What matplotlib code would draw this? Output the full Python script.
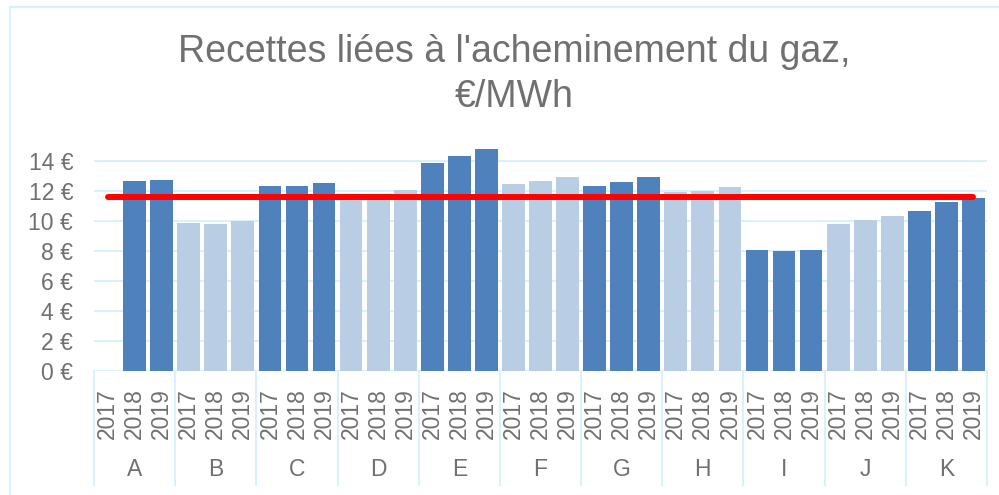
import numpy as np
import matplotlib
matplotlib.use("Agg")
import matplotlib.pyplot as plt

plt.rcParams['font.family'] = ['Liberation Sans', 'DejaVu Sans']

groups = ['A', 'B', 'C', 'D', 'E', 'F', 'G', 'H', 'I', 'J', 'K']
years = ['2017', '2018', '2019']
values = [
    [np.nan, 12.67, 12.71],
    [9.89, 9.80, 10.00],
    [12.36, 12.36, 12.56],
    [11.65, 11.70, 12.07],
    [13.90, 14.33, 14.82],
    [12.49, 12.67, 12.93],
    [12.36, 12.62, 12.93],
    [11.93, 12.00, 12.27],
    [8.07, 7.98, 8.07],
    [9.80, 10.07, 10.33],
    [10.64, 11.24, 11.53],
]
average = 11.58
yticks = [0, 2, 4, 6, 8, 10, 12, 14]

dark = '#4f81bd'
light = '#b9cde5'
grid_c = '#d9f1fa'
text_c = '#707070'

W, H = 999, 495
fig = plt.figure(figsize=(W / 100, H / 100), dpi=100)

# chart border (cropped on right/bottom)
fig.add_artist(plt.Line2D([10 / W, 1], [1 - 7 / H, 1 - 7 / H], color=grid_c, lw=1.5))
fig.add_artist(plt.Line2D([10 / W, 10 / W], [0, 1 - 7 / H], color=grid_c, lw=1.5))

ax = fig.add_axes([94 / W, (H - 371) / H, 893 / W, 225 / H])

ng = len(groups)
ny = len(years)
x = np.arange(ng * ny)
heights = np.array(values).flatten()
colors = []
for i in range(ng):
    colors += [dark if i % 2 == 0 else light] * ny

ax.bar(x, heights, width=0.84, color=colors, zorder=3)
ax.plot([x[0], x[-1]], [average, average], color='#ff0000', lw=4.3,
        solid_capstyle='round', zorder=4)

ax.set_xlim(-0.5, ng * ny - 0.5)
ax.set_ylim(0, 15)
ax.set_yticks(yticks)
ax.set_yticklabels([f'{v} €' for v in yticks], color=text_c, fontsize=16.5)
ax.tick_params(axis='y', length=0, pad=15)
ax.set_xticks([])
for s in ax.spines.values():
    s.set_visible(False)
for v in yticks:
    ax.axhline(v, color=grid_c, lw=1.5, zorder=1)

# multi-level category axis
tr = ax.get_xaxis_transform()
bottom = -(485 - 371) / 225
for i in range(ng + 1):
    ax.plot([i * ny - 0.5, i * ny - 0.5], [0, bottom], color=grid_c, lw=1.5,
            transform=tr, clip_on=False)
for j, xx in enumerate(x):
    ax.text(xx, -(414 - 371) / 225, years[j % ny], rotation=90, ha='center',
            va='center', color=text_c, fontsize=16.5, transform=tr)
for i, g in enumerate(groups):
    ax.text(i * ny + 1, -(470 - 371) / 225, g, ha='center', va='center',
            color=text_c, fontsize=16.5, transform=tr)

fig.text(514 / W, 1 - 62 / H, "Recettes liées à l'acheminement du gaz,",
         ha='center', va='baseline', color=text_c, fontsize=27)
fig.text(514 / W, 1 - 107 / H, "€/MWh", ha='center', va='baseline',
         color=text_c, fontsize=27)

fig.savefig('out.png', dpi=100)
